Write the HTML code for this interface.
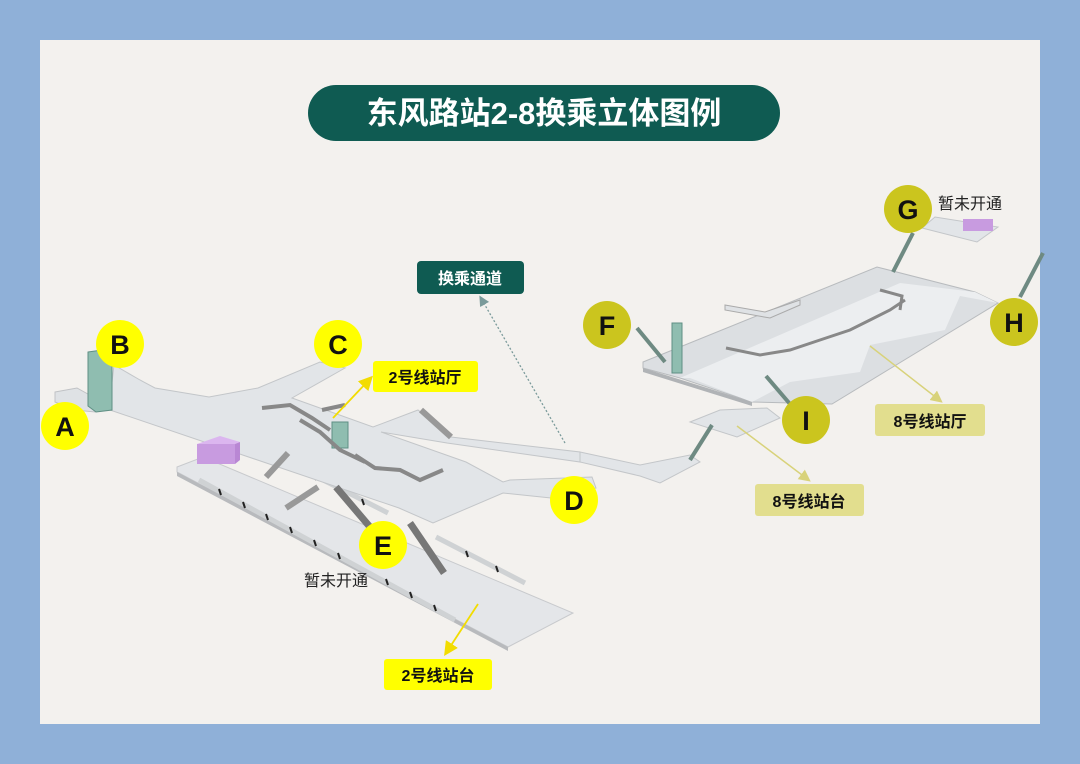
<!DOCTYPE html>
<html><head><meta charset="utf-8"><style>
html,body{margin:0;padding:0;background:#8fb0d8;}
svg{display:block}
text{font-family:"Liberation Sans","Noto Sans CJK SC",sans-serif;}
</style></head><body>
<svg width="1080" height="764" viewBox="0 0 1080 764" xmlns="http://www.w3.org/2000/svg">
<defs>
<marker id="ay" markerWidth="8" markerHeight="8" refX="4" refY="4" orient="auto"><path d="M0,0 L8,4 L0,8 z" fill="#f2dc00"/></marker>
<marker id="ak" markerWidth="8" markerHeight="8" refX="4" refY="4" orient="auto"><path d="M0,0 L8,4 L0,8 z" fill="#d8d27a"/></marker>
<marker id="ag" markerWidth="8" markerHeight="8" refX="4" refY="4" orient="auto"><path d="M0,0 L8,4 L0,8 z" fill="#7a9a9a"/></marker>
</defs>
<rect x="0" y="0" width="1080" height="764" fill="#8fb0d8"/>
<rect x="40" y="40" width="1000" height="684" fill="#f3f1ee"/>

<rect x="308" y="85" width="472" height="56" rx="28" fill="#0f5b52"/>
<text x="544" y="124" font-size="31" font-weight="bold" fill="#fff" text-anchor="middle">东风路站2-8换乘立体图例</text>

<rect x="417" y="261" width="107" height="33" rx="4" fill="#0f5b52"/>
<text x="470" y="284" font-size="16" font-weight="bold" fill="#fff" text-anchor="middle">换乘通道</text>
<line x1="565" y1="443" x2="482" y2="300" stroke="#7a9a9a" stroke-width="1.3" stroke-dasharray="2,2" marker-end="url(#ag)"/>

<!-- line 2 platform -->
<polygon points="177,467 203,457 573,613 508,647 177,472" fill="#e4e6e9" stroke="#c8cacd"/>
<polygon points="177,472 508,647 508,651 177,476" fill="#b8babd"/>
<line x1="199" y1="480" x2="455" y2="620" stroke="#cfd2d4" stroke-width="5"/>
<line x1="436" y1="537" x2="525" y2="583" stroke="#cfd2d4" stroke-width="5"/>
<line x1="270" y1="453" x2="388" y2="513" stroke="#cfd2d4" stroke-width="5"/>
<g stroke="#222" stroke-width="2">
<line x1="219" y1="489" x2="221" y2="495"/><line x1="243" y1="502" x2="245" y2="508"/><line x1="266" y1="514" x2="268" y2="520"/><line x1="290" y1="527" x2="292" y2="533"/><line x1="314" y1="540" x2="316" y2="546"/><line x1="338" y1="553" x2="340" y2="559"/><line x1="386" y1="579" x2="388" y2="585"/><line x1="410" y1="592" x2="412" y2="598"/><line x1="434" y1="605" x2="436" y2="611"/>
<line x1="290" y1="462" x2="292" y2="468"/><line x1="314" y1="474" x2="316" y2="480"/><line x1="362" y1="499" x2="364" y2="505"/>
<line x1="466" y1="551" x2="468" y2="557"/><line x1="496" y1="566" x2="498" y2="572"/></g>

<!-- line 2 concourse -->
<polygon points="55,392 77,388 95,398 95,412 75,410 55,402" fill="#dfe2e5" stroke="#c0c2c5"/>
<polygon points="110,400 114,365 140,380 155,388 209,397 258,388 320,362 345,368 292,398 373,427 418,410 451,437 580,452 580,462 447,443 381,432 466,462 503,482 510,480 592,477 596,488 551,498 503,493 433,523 399,508 110,410" fill="#e2e5e8" stroke="#c3c6c9"/>
<polygon points="580,452 640,465 690,455 700,462 660,483 640,476 580,462" fill="#e2e5e8" stroke="#c3c6c9"/>
<rect x="197" y="444" width="38" height="20" fill="#c89be0"/>
<polygon points="197,444 220,436 240,442 235,444" fill="#dbb6ef"/>
<polygon points="235,444 240,442 240,460 235,464" fill="#b987d4"/>
<polygon points="88,352 102,350 112,355 112,410 96,412 88,406" fill="#8fbdb0" stroke="#5f8f84"/>
<rect x="332" y="422" width="16" height="26" fill="#8fbdb0" stroke="#5f8f84"/>
<g stroke="#888" stroke-width="4" fill="none">
<polyline points="262,408 290,405 312,418 330,430"/>
<polyline points="300,420 320,432 340,450 365,462"/>
<polyline points="355,455 375,468 400,470 420,480 443,470"/>
<line x1="322" y1="410" x2="345" y2="405"/>
</g>
<g stroke="#999" stroke-width="6" fill="none">
<line x1="288" y1="453" x2="266" y2="477"/>
<line x1="318" y1="487" x2="286" y2="508"/>
<line x1="421" y1="410" x2="451" y2="437"/>
</g>
<g stroke="#777" stroke-width="7" fill="none">
<line x1="336" y1="487" x2="370" y2="527"/>
<line x1="410" y1="523" x2="444" y2="573"/>
</g>

<!-- line 8 hall -->
<polygon points="643,362 877,267 975,292 998,303 832,404 752,402 680,378 643,368" fill="#dcdfe2" stroke="#b8bbbe"/>
<polygon points="680,378 900,283 975,292 998,303 960,296 945,330 870,345 860,372 790,382 752,402 690,378" fill="#eceef0"/>
<polygon points="643,368 752,402 752,406 643,372" fill="#b0b3b6"/>
<polygon points="725,305 765,312 800,300 800,305 770,318 725,310" fill="#dfe2e5" stroke="#aaa"/>
<rect x="672" y="323" width="10" height="50" fill="#8fbdb0" stroke="#5f8f84"/>
<polygon points="690,422 720,410 767,408 780,418 737,437" fill="#e2e5e8" stroke="#c3c6c9"/>
<polygon points="922,228 935,217 998,227 977,242" fill="#e2e5e8" stroke="#c3c6c9"/>
<rect x="963" y="219" width="30" height="12" fill="#c89be0"/>
<g stroke="#6e8a82" stroke-width="4" fill="none">
<line x1="637" y1="328" x2="665" y2="362"/>
<line x1="913" y1="233" x2="893" y2="272"/>
<line x1="1043" y1="253" x2="1020" y2="297"/>
<line x1="766" y1="376" x2="790" y2="404"/>
<line x1="712" y1="425" x2="690" y2="460"/>
</g>
<g stroke="#888" stroke-width="3" fill="none">
<polyline points="726,348 760,355 790,350 820,340 850,330 870,320 890,310 905,300"/>
<polyline points="880,290 902,296 900,310"/>
</g>

<line x1="333" y1="418" x2="368" y2="381" stroke="#f2dc00" stroke-width="1.8" marker-end="url(#ay)"/>
<line x1="478" y1="604" x2="448" y2="650" stroke="#f2dc00" stroke-width="1.8" marker-end="url(#ay)"/>
<line x1="870" y1="346" x2="938" y2="399" stroke="#d8d27a" stroke-width="1.5" marker-end="url(#ak)"/>
<line x1="737" y1="426" x2="806" y2="478" stroke="#d8d27a" stroke-width="1.5" marker-end="url(#ak)"/>

<rect x="373" y="361" width="105" height="31" rx="3" fill="#ffff00"/>
<text x="425" y="383" font-size="16" font-weight="bold" fill="#111" text-anchor="middle">2号线站厅</text>
<rect x="384" y="659" width="108" height="31" rx="3" fill="#ffff00"/>
<text x="438" y="681" font-size="16" font-weight="bold" fill="#111" text-anchor="middle">2号线站台</text>
<rect x="875" y="404" width="110" height="32" rx="3" fill="#e2de8e"/>
<text x="930" y="427" font-size="16" font-weight="bold" fill="#111" text-anchor="middle">8号线站厅</text>
<rect x="755" y="484" width="109" height="32" rx="3" fill="#e2de8e"/>
<text x="809" y="507" font-size="16" font-weight="bold" fill="#111" text-anchor="middle">8号线站台</text>
<text x="336" y="586" font-size="16" fill="#222" text-anchor="middle">暂未开通</text>
<text x="970" y="209" font-size="16" fill="#222" text-anchor="middle">暂未开通</text>

<g font-size="27" font-weight="bold" fill="#111" text-anchor="middle">
<circle cx="65" cy="426" r="24" fill="#ffff00"/><text x="65" y="436">A</text>
<circle cx="120" cy="344" r="24" fill="#ffff00"/><text x="120" y="354">B</text>
<circle cx="338" cy="344" r="24" fill="#ffff00"/><text x="338" y="354">C</text>
<circle cx="574" cy="500" r="24" fill="#ffff00"/><text x="574" y="510">D</text>
<circle cx="383" cy="545" r="24" fill="#ffff00"/><text x="383" y="555">E</text>
<circle cx="607" cy="325" r="24" fill="#cbc51e"/><text x="607" y="335">F</text>
<circle cx="908" cy="209" r="24" fill="#cbc51e"/><text x="908" y="219">G</text>
<circle cx="1014" cy="322" r="24" fill="#cbc51e"/><text x="1014" y="332">H</text>
<circle cx="806" cy="420" r="24" fill="#cbc51e"/><text x="806" y="430">I</text>
</g>
</svg>
</body></html>
